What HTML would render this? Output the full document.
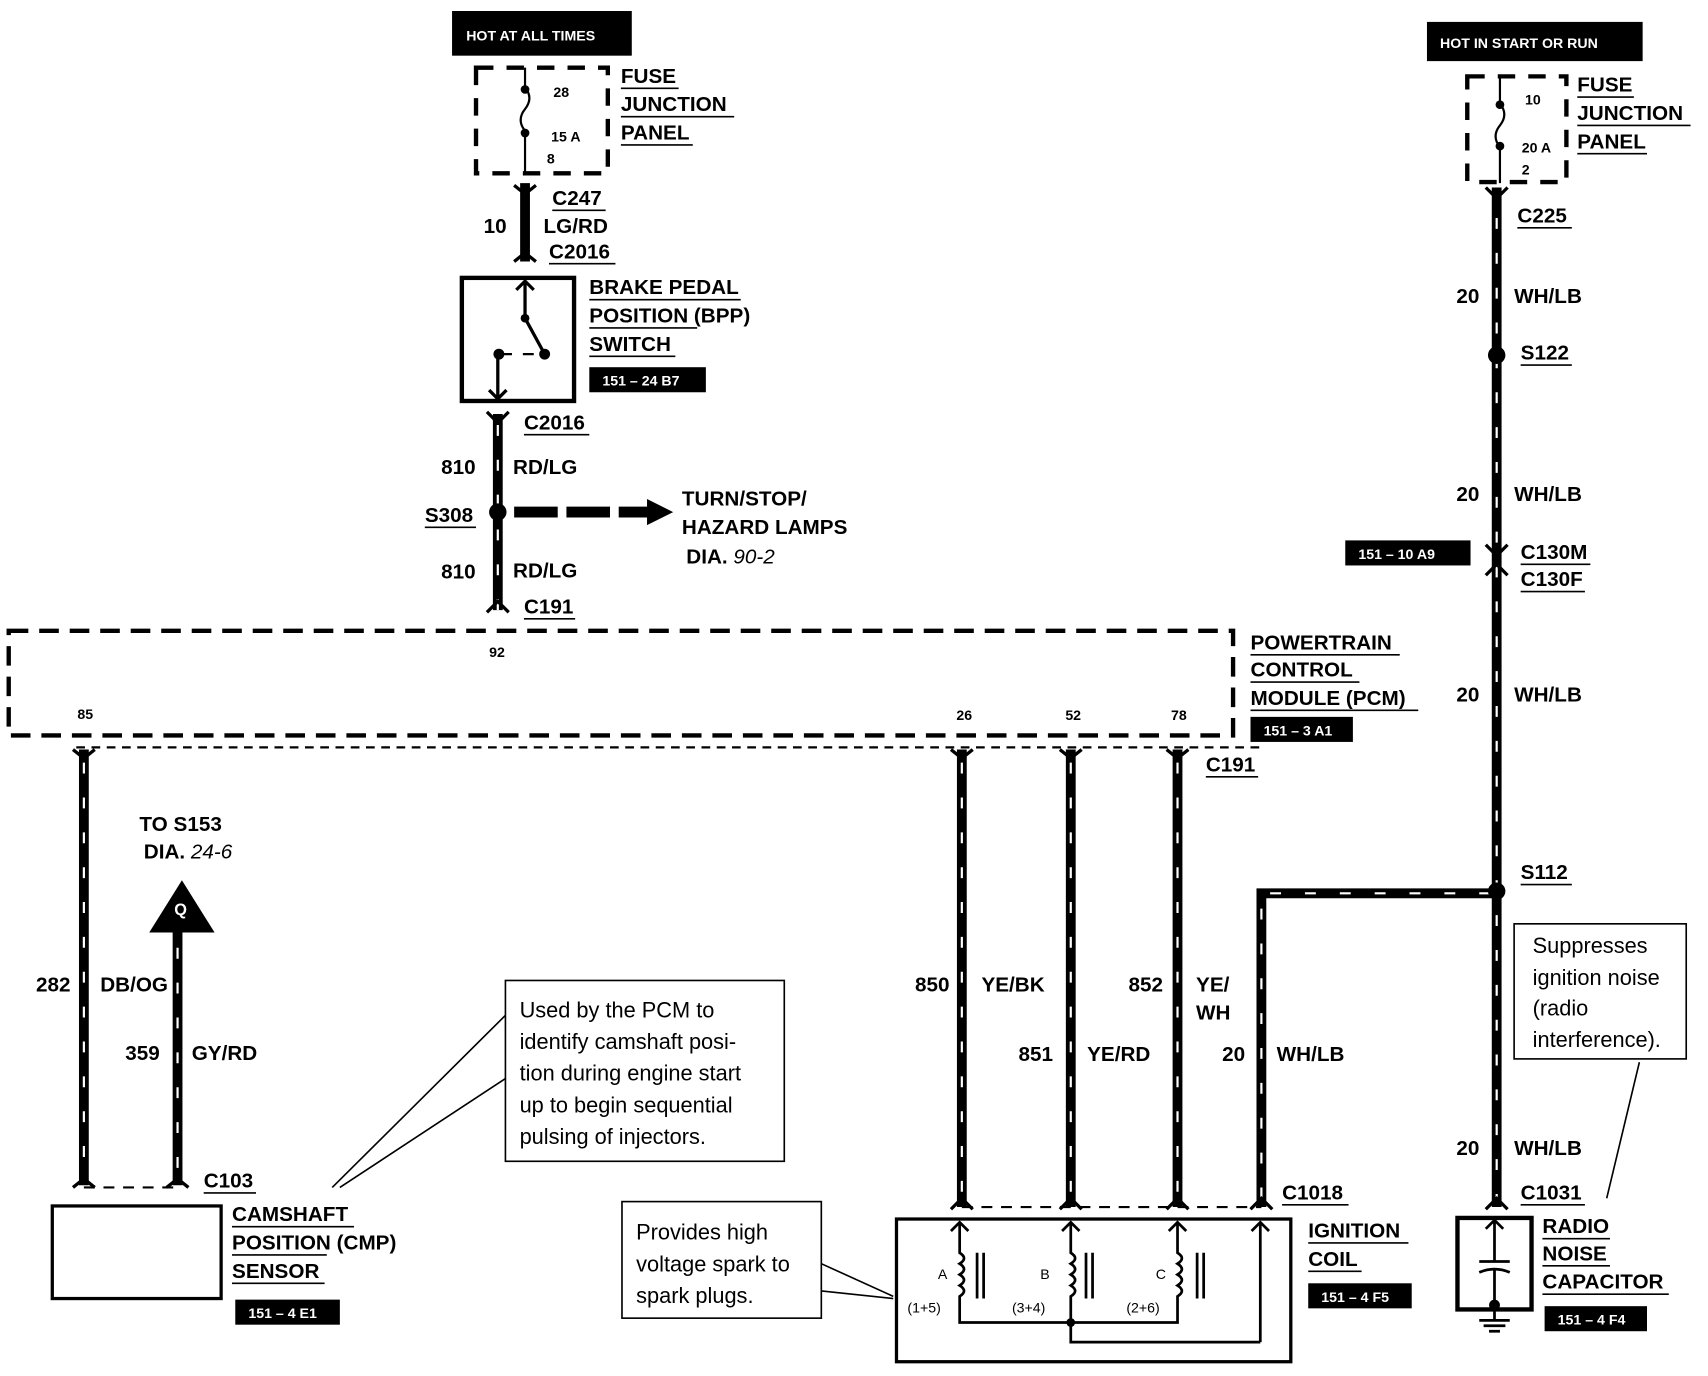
<!DOCTYPE html>
<html><head><meta charset="utf-8"><style>
html,body{margin:0;padding:0;background:#fff}
svg{display:block}
text{font-family:"Liberation Sans",sans-serif}
.b{font-weight:bold;font-size:19px}
.s{font-size:13px;font-weight:bold}
.n{font-size:20px}
.w{fill:#fff;font-size:13px;font-weight:bold}
</style></head><body>
<svg width="1708" height="1376" viewBox="0 0 1568 1263" xmlns="http://www.w3.org/2000/svg">
<defs>
<g id="wire"></g>
</defs>
<!-- Left HOT -->
<rect x="415" y="10" width="165" height="41" fill="#000"/>
<text x="428" y="37" class="w" font-size="14">HOT AT ALL TIMES</text>
<rect x="437" y="62" width="121" height="97" fill="none" stroke="#000" stroke-width="4" stroke-dasharray="16 12"/>
<path d="M482 62 V80 q8 10 0 20 q-8 10 0 20 V160" fill="none" stroke="#000" stroke-width="2"/>
<circle cx="482" cy="82" r="4"/><circle cx="482" cy="122" r="4"/>
<text x="508" y="89" class="s">28</text><text x="506" y="130" class="s">15 A</text><text x="502" y="150" class="s">8</text>
<g class="b"><text x="570" y="76">FUSE</text><text x="570" y="102">JUNCTION</text><text x="570" y="128">PANEL</text></g>
<path d="M570 81H623M570 107H674M570 133H636" stroke="#000" stroke-width="1.5"/>
<!-- Right HOT -->
<rect x="1310" y="20" width="198" height="36" fill="#000"/>
<text x="1322" y="44" class="w" font-size="14">HOT IN START OR RUN</text>
<rect x="1347" y="70" width="91" height="97" fill="none" stroke="#000" stroke-width="4" stroke-dasharray="16 12"/>
<path d="M1377 70 V95 q8 10 0 20 q-8 10 0 20 V168" fill="none" stroke="#000" stroke-width="2"/>
<circle cx="1377" cy="96" r="4"/><circle cx="1377" cy="134" r="4"/>
<text x="1400" y="96" class="s">10</text><text x="1397" y="140" class="s">20 A</text><text x="1397" y="160" class="s">2</text>
<g class="b"><text x="1448" y="84">FUSE</text><text x="1448" y="110">JUNCTION</text><text x="1448" y="136">PANEL</text></g>
<path d="M1448 89H1500M1448 115H1552M1448 141H1512" stroke="#000" stroke-width="1.5"/>

<!-- wires -->
<g stroke="#000" stroke-width="9" fill="none">
<path d="M482 168V240"/>
<path d="M457 380V560"/>
<path d="M1374 172V1108"/>
<path d="M77 688V1088"/>
<path d="M163 845V1088"/>
<path d="M883 688V1108"/>
<path d="M983 688V1108"/>
<path d="M1081 688V1108"/>
<path d="M1158 1108V820H1374"/>
</g>
<g stroke="#fff" stroke-width="2" fill="none" stroke-dasharray="10 22">
<path d="M457 390V560"/>
<path d="M1374 200V1100"/>
<path d="M77 700V1080"/>
<path d="M163 870V1080"/>
<path d="M883 700V1100"/>
<path d="M983 700V1100"/>
<path d="M1081 700V1100"/>
<path d="M1158 1100V820H1370"/>
</g>
<!-- connector forks -->
<g stroke="#000" stroke-width="3" fill="none">
<path d="M472 170L482 178L492 170M472 240L482 232L492 240"/>
<path d="M447 378L457 388L467 378M447 562L457 552L467 562"/>
<path d="M1364 172L1374 182L1384 172"/>
<path d="M67 688L77 696L87 688M873 688L883 696L893 688M973 688L983 696L993 688M1071 688L1081 696L1091 688"/>
<path d="M67 1090L77 1082L87 1090M153 1090L163 1082L173 1090"/>
<path d="M873 1110L883 1100L893 1110M973 1110L983 1100L993 1110M1071 1110L1081 1100L1091 1110M1148 1110L1158 1100L1168 1110M1364 1110L1374 1100L1384 1110"/>
<path d="M1364 500L1374 510L1384 500M1364 528L1374 518L1384 528"/>
</g>
<path d="M70 686H1160" stroke="#000" stroke-width="2" stroke-dasharray="8 6"/>
<path d="M77 1090H163" stroke="#000" stroke-width="2" stroke-dasharray="10 8"/>
<path d="M883 1108H1158" stroke="#000" stroke-width="2" stroke-dasharray="10 8"/>

<g class="b">
<text x="507" y="188">C247</text><text x="444" y="214">10</text><text x="499" y="214">LG/RD</text><text x="504" y="237">C2016</text>
<text x="481" y="394">C2016</text><text x="405" y="435">810</text><text x="471" y="435">RD/LG</text>
<text x="390" y="479">S308</text><text x="405" y="531">810</text><text x="471" y="530">RD/LG</text><text x="481" y="563">C191</text>
<text x="626" y="464">TURN/STOP/</text><text x="626" y="490">HAZARD LAMPS</text><text x="630" y="517">DIA. <tspan font-style="italic" font-weight="normal">90-2</tspan></text>
<text x="541" y="270">BRAKE PEDAL</text><text x="541" y="296">POSITION (BPP)</text><text x="541" y="322">SWITCH</text>
<text x="1148" y="596">POWERTRAIN</text><text x="1148" y="621">CONTROL</text><text x="1148" y="647">MODULE (PCM)</text>
<text x="1107" y="708">C191</text>
<text x="128" y="763">TO S153</text><text x="132" y="788">DIA. <tspan font-style="italic" font-weight="normal">24-6</tspan></text>
<text x="33" y="910">282</text><text x="92" y="910">DB/OG</text><text x="115" y="973">359</text><text x="176" y="973">GY/RD</text>
<text x="187" y="1090">C103</text>
<text x="213" y="1121">CAMSHAFT</text><text x="213" y="1147">POSITION (CMP)</text><text x="213" y="1173">SENSOR</text>
<text x="840" y="910">850</text><text x="901" y="910">YE/BK</text><text x="1036" y="910">852</text><text x="1098" y="910">YE/</text><text x="1098" y="936">WH</text>
<text x="935" y="974">851</text><text x="998" y="974">YE/RD</text><text x="1122" y="974">20</text><text x="1172" y="974">WH/LB</text>
<text x="1177" y="1101">C1018</text><text x="1201" y="1136">IGNITION</text><text x="1201" y="1162">COIL</text>
<text x="1393" y="204">C225</text><text x="1337" y="278">20</text><text x="1390" y="278">WH/LB</text>
<text x="1396" y="330">S122</text><text x="1337" y="460">20</text><text x="1390" y="460">WH/LB</text>
<text x="1396" y="513">C130M</text><text x="1396" y="538">C130F</text>
<text x="1337" y="644">20</text><text x="1390" y="644">WH/LB</text>
<text x="1396" y="807">S112</text><text x="1337" y="1060">20</text><text x="1390" y="1060">WH/LB</text>
<text x="1396" y="1101">C1031</text>
<text x="1416" y="1132">RADIO</text><text x="1416" y="1157">NOISE</text><text x="1416" y="1183">CAPACITOR</text>
</g>
<g stroke="#000" stroke-width="1.5">
<path d="M507 193H556M504 242H565M481 399H541M390 484H437M481 568H528M541 275H680M541 301H640M541 327H620M1148 601H1285M1148 626H1248M1148 652H1302M1107 713H1155M187 1095H235M213 1126H325M213 1152H300M213 1178H298M1177 1106H1238M1201 1141H1293M1201 1167H1250M1393 209H1443M1396 335H1443M1396 518H1460M1396 543H1455M1396 812H1443M1396 1106H1455M1416 1137H1478M1416 1162H1478M1416 1188H1532"/>
</g>
<g class="s">
<text x="449" y="603">92</text><text x="71" y="660">85</text><text x="878" y="661">26</text><text x="978" y="661">52</text><text x="1075" y="661">78</text>
</g>
<!-- PCM dashed box -->
<rect x="8" y="579" width="1124" height="96" fill="none" stroke="#000" stroke-width="4" stroke-dasharray="18 10"/>
<!-- black ref boxes -->
<rect x="541" y="337" width="107" height="23" fill="#000"/><text x="553" y="354" class="w">151 – 24 B7</text>
<rect x="1148" y="658" width="94" height="23" fill="#000"/><text x="1160" y="675" class="w">151 – 3 A1</text>
<rect x="216" y="1193" width="96" height="23" fill="#000"/><text x="228" y="1210" class="w">151 – 4 E1</text>
<rect x="1201" y="1178" width="95" height="23" fill="#000"/><text x="1213" y="1195" class="w">151 – 4 F5</text>
<rect x="1418" y="1199" width="94" height="23" fill="#000"/><text x="1430" y="1216" class="w">151 – 4 F4</text>
<rect x="1235" y="496" width="115" height="23" fill="#000"/><text x="1247" y="513" class="w">151 – 10 A9</text>
<!-- BPP switch -->
<rect x="424" y="255" width="103" height="113" fill="none" stroke="#000" stroke-width="4"/>
<g stroke="#000" stroke-width="3" fill="none">
<path d="M482 258V292L500 325M474 266L482 258L490 266"/>
<path d="M457 325V366M449 358L457 366L465 358"/>
<path d="M457 325H470M480 325H490" stroke-width="2"/>
</g>
<circle cx="482" cy="292" r="4"/><circle cx="500" cy="325" r="5"/><circle cx="458" cy="325" r="5"/>
<!-- S308 -->
<circle cx="457" cy="470" r="8"/>
<path d="M472 470H596" stroke="#000" stroke-width="10" stroke-dasharray="40 8"/>
<path d="M594 458L618 470L594 482Z"/>
<circle cx="1374" cy="326" r="8"/><circle cx="1374" cy="818" r="8"/>
<!-- Q arrow -->
<path d="M137 856L167 808L197 856Z"/>
<text x="160" y="840" fill="#fff" font-weight="bold" font-size="15">Q</text>
<!-- CMP box -->
<rect x="48" y="1107" width="155" height="85" fill="none" stroke="#000" stroke-width="3"/>
<!-- notes -->
<rect x="464" y="900" width="256" height="166" fill="none" stroke="#000" stroke-width="1.5"/>
<g class="n"><text x="477" y="934">Used by the PCM to</text><text x="477" y="963">identify camshaft posi-</text><text x="477" y="992">tion during engine start</text><text x="477" y="1021">up to begin sequential</text><text x="477" y="1050">pulsing of injectors.</text></g>
<path d="M464 932L305 1090M464 990L312 1090" stroke="#000" stroke-width="1.5"/>
<rect x="571" y="1103" width="183" height="107" fill="none" stroke="#000" stroke-width="1.5"/>
<g class="n"><text x="584" y="1138">Provides high</text><text x="584" y="1167">voltage spark to</text><text x="584" y="1196">spark plugs.</text></g>
<path d="M754 1160L820 1190M754 1185L820 1192" stroke="#000" stroke-width="1.5"/>
<rect x="1390" y="848" width="158" height="124" fill="none" stroke="#000" stroke-width="1.5"/>
<g class="n"><text x="1407" y="875">Suppresses</text><text x="1407" y="904">ignition noise</text><text x="1407" y="932">(radio</text><text x="1407" y="961">interference).</text></g>
<path d="M1505 975L1475 1100" stroke="#000" stroke-width="1.5"/>
<!-- ignition coil -->
<rect x="823" y="1119" width="362" height="131" fill="none" stroke="#000" stroke-width="3"/>
<g stroke="#000" stroke-width="2.5" fill="none">
<path d="M881 1122V1150 q8 5 0 10 q8 5 0 10 q8 5 0 10 q8 5 0 10 V1214H983M873 1130L881 1122L889 1130"/>
<path d="M983 1122V1150 q8 5 0 10 q8 5 0 10 q8 5 0 10 q8 5 0 10 V1232H1157M975 1130L983 1122L991 1130"/>
<path d="M1081 1122V1150 q8 5 0 10 q8 5 0 10 q8 5 0 10 q8 5 0 10 V1214H983M1073 1130L1081 1122L1089 1130"/>
<path d="M1157 1122V1232M1149 1130L1157 1122L1165 1130"/>
<path d="M897 1150V1192M903 1150V1192M997 1150V1192M1003 1150V1192M1099 1150V1192M1105 1150V1192"/>
</g>
<circle cx="983" cy="1214" r="4"/>
<g font-size="13"><text x="861" y="1174">A</text><text x="955" y="1174">B</text><text x="1061" y="1174">C</text>
<text x="833" y="1205">(1+5)</text><text x="929" y="1205">(3+4)</text><text x="1034" y="1205">(2+6)</text></g>
<!-- capacitor -->
<rect x="1338" y="1118" width="68" height="84" fill="none" stroke="#000" stroke-width="4"/>
<g stroke="#000" stroke-width="2.5" fill="none">
<path d="M1372 1120V1158M1364 1128L1372 1120L1380 1128M1358 1158H1386M1358 1168 Q1372 1162 1386 1168M1372 1166V1212M1358 1212H1386M1362 1217H1382M1367 1222H1377"/>
</g>
<circle cx="1372" cy="1198" r="5"/>
</svg>
</body></html>
